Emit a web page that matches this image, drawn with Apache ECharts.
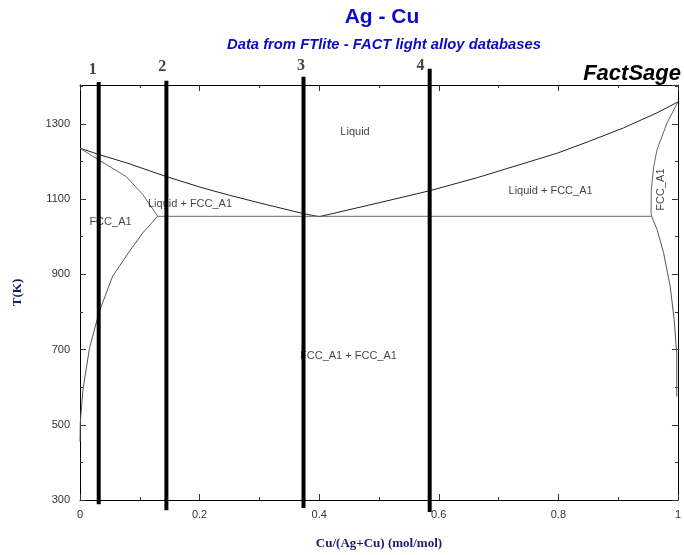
<!DOCTYPE html>
<html>
<head>
<meta charset="utf-8">
<script src="https://cdn.jsdelivr.net/npm/echarts@6/dist/echarts.min.js"></script>
<style>
  html, body { margin: 0; padding: 0; background: #fff; }
  #main { width: 684px; height: 555px; }
</style>
</head>
<body>
<div id="main"></div>
<script>
// liquidus, Ag side and Cu side
const liqLeftX = [0, 0.032, 0.08, 0.1436, 0.204, 0.25, 0.299, 0.374, 0.40];
const liqLeftT = [1235, 1218, 1195, 1160, 1130, 1110, 1090, 1061, 1053];
const liqRightX = [0.40, 0.50, 0.585, 0.665, 0.7985, 0.851, 0.909, 0.965, 1];
const liqRightT = [1053, 1090, 1122, 1157, 1222, 1253, 1289, 1329, 1358];
// Ag rich FCC: solidus + solvus
const solLeftX = [0, 0.031, 0.077, 0.105, 0.13];
const solLeftT = [1235, 1204, 1160, 1112, 1054];
const solvLeftX = [0.13, 0.105, 0.085, 0.0546, 0.0325, 0.016, 0.005, 0.0005, 0];
const solvLeftT = [1054, 1010, 966, 895, 802, 705, 594, 507, 455];
// eutectic line
const eutX = [0.13, 0.956];
const eutT = [1054, 1054];
// Cu rich FCC
const solRightX = [1, 0.9817, 0.965, 0.9595, 0.9555, 0.955, 0.956];
const solRightT = [1358, 1302, 1231, 1187, 1125, 1063, 1054];
const solvRightX = [0.956, 0.965, 0.976, 0.987, 0.9937, 0.997, 0.998, 0.998];
const solvRightT = [1054, 1019, 957, 868, 780, 709, 690, 575];
// thick composition guides 1-4
const guideX = [0.0313, 0.1445, 0.3738, 0.5848];
const guideTop = [1411, 1414, 1425, 1446];
const guideBottom = [289, 273, 279, 268];
// their numbers
const guideNames = ["1", "2", "3", "4"];
const guideLabelX = [0.0213, 0.1374, 0.3697, 0.5695];
const guideLabelT = [1443, 1450, 1454, 1454];
// phase region labels
const regionNames = ["Liquid", "Liquid + FCC_A1", "FCC_A1", "Liquid + FCC_A1", "FCC_A1", "FCC_A1 + FCC_A1"];
const regionX = [0.46, 0.184, 0.051, 0.787, 0.972, 0.449];
const regionT = [1277, 1088, 1038, 1122, 1125, 682];

const zip = (xs, ys) => xs.map((x, i) => [x, ys[i]]);

const chart = echarts.init(document.getElementById("main"));

const lineOf = (xs, ts, color) => ({
  type: "line",
  data: zip(xs, ts),
  showSymbol: false,
  symbol: "none",
  silent: true,
  lineStyle: { color: color, width: 1 },
  z: 3
});

const guides = guideX.map((x, i) => ({
  type: "line",
  data: [[x, guideTop[i]], [x, guideBottom[i]]],
  symbol: "none",
  clip: false,
  silent: true,
  lineStyle: { color: "#000", width: 4 },
  z: 5
}));

// numbers over the guides
const guideLabels = {
  type: "scatter",
  data: guideNames.map((n, i) => ({ name: n, value: [guideLabelX[i], guideLabelT[i]] })),
  symbolSize: 0,
  clip: false,
  silent: true,
  label: {
    show: true,
    position: "inside",
    formatter: p => p.name,
    fontFamily: "Liberation Serif",
    fontWeight: "bold",
    fontSize: 16,
    color: "#1a1200"
  },
  z: 6
};

const tickFont = { fontFamily: "Liberation Sans", fontSize: 11, color: "#333" };
const nameFont = { fontFamily: "Liberation Serif", fontWeight: "bold", fontSize: 13, color: "#1c1c6c" };

// frame axis: major ticks (labelled on bottom/left only)
const frameX = (pos, withLabels) => ({
  type: "value", min: 0, max: 1, interval: 0.2, position: pos,
  axisLine: { show: true, onZero: false, lineStyle: { color: "#000", width: 1 } },
  axisTick: { show: true, inside: true, length: 6, lineStyle: { color: "#333" } },
  axisLabel: withLabels
    ? Object.assign({ margin: 9, formatter: v => String(+v.toFixed(1)) }, tickFont)
    : { show: false },
  splitLine: { show: false }
});
// short minor ticks every 0.1
const minorX = pos => ({
  type: "value", min: 0, max: 1, interval: 0.1, position: pos,
  axisLine: { show: false, onZero: false },
  axisTick: { show: true, inside: true, length: 3, lineStyle: { color: "#333" } },
  axisLabel: { show: false },
  splitLine: { show: false }
});
const frameY = (pos, withLabels) => ({
  type: "value", min: 300, max: 1403, interval: 200, position: pos,
  axisLine: { show: true, onZero: false, lineStyle: { color: "#000", width: 1 } },
  axisTick: { show: true, inside: true, length: 6, lineStyle: { color: "#333" } },
  axisLabel: withLabels
    ? Object.assign({ margin: 10, showMaxLabel: false, formatter: v => String(v) }, tickFont)
    : { show: false },
  splitLine: { show: false }
});
const minorY = pos => ({
  type: "value", min: 300, max: 1403, interval: 100, position: pos,
  axisLine: { show: false, onZero: false },
  axisTick: { show: true, inside: true, length: 3, lineStyle: { color: "#333" } },
  axisLabel: { show: false },
  splitLine: { show: false }
});

const xBottom = frameX("bottom", true);
xBottom.name = "Cu/(Ag+Cu) (mol/mol)";
xBottom.nameLocation = "middle";
xBottom.nameGap = 37;
xBottom.nameTextStyle = nameFont;

const yLeft = frameY("left", true);
yLeft.name = "T(K)";
yLeft.nameLocation = "middle";
yLeft.nameGap = 56;
yLeft.nameTextStyle = nameFont;

const option = {
  animation: false,
  backgroundColor: "#fff",
  grid: { left: 80, right: 3, top: 85, bottom: 54 },
  graphic: [
    { type: "text", x: 382, y: 17, style: { text: "Ag - Cu", textAlign: "center", textVerticalAlign: "middle",
      fontFamily: "Liberation Sans", fontWeight: "bold", fontSize: 21, fill: "#0a0ac8" } },
    { type: "text", x: 384, y: 45, style: { text: "Data from FTlite - FACT light alloy databases", textAlign: "center", textVerticalAlign: "middle",
      fontFamily: "Liberation Sans", fontWeight: "bold", fontStyle: "italic", fontSize: 14.8, fill: "#0a0ac8" } },
    { type: "text", x: 681, y: 74, style: { text: "FactSage", textAlign: "right", textVerticalAlign: "middle",
      fontFamily: "Liberation Sans", fontWeight: "bold", fontStyle: "italic", fontSize: 22, fill: "#000" } }
  ],
  xAxis: [xBottom, frameX("top", false), minorX("bottom"), minorX("top")],
  yAxis: [yLeft, frameY("right", false), minorY("left"), minorY("right")],
  series: [
    lineOf(liqLeftX, liqLeftT, "#222"),
    lineOf(liqRightX, liqRightT, "#222"),
    lineOf(solLeftX, solLeftT, "#666"),
    lineOf(solvLeftX, solvLeftT, "#555"),
    lineOf(eutX, eutT, "#666"),
    lineOf(solRightX, solRightT, "#666"),
    lineOf(solvRightX, solvRightT, "#555"),
    ...guides,
    guideLabels,
    {
      type: "scatter",
      data: regionNames.map((n, i) => ({ name: n, value: [regionX[i], regionT[i]] })),
      symbolSize: 0,
      silent: true,
      label: {
        show: true,
        position: "inside",
        formatter: p => p.name,
        fontFamily: "Liberation Sans",
        fontSize: 11,
        color: "#111"
      },
      labelLayout: p => (p.dataIndex === 4 ? { rotate: 90 } : {}),
      z: 4
    }
  ]
};

chart.setOption(option);
</script>
</body>
</html>
